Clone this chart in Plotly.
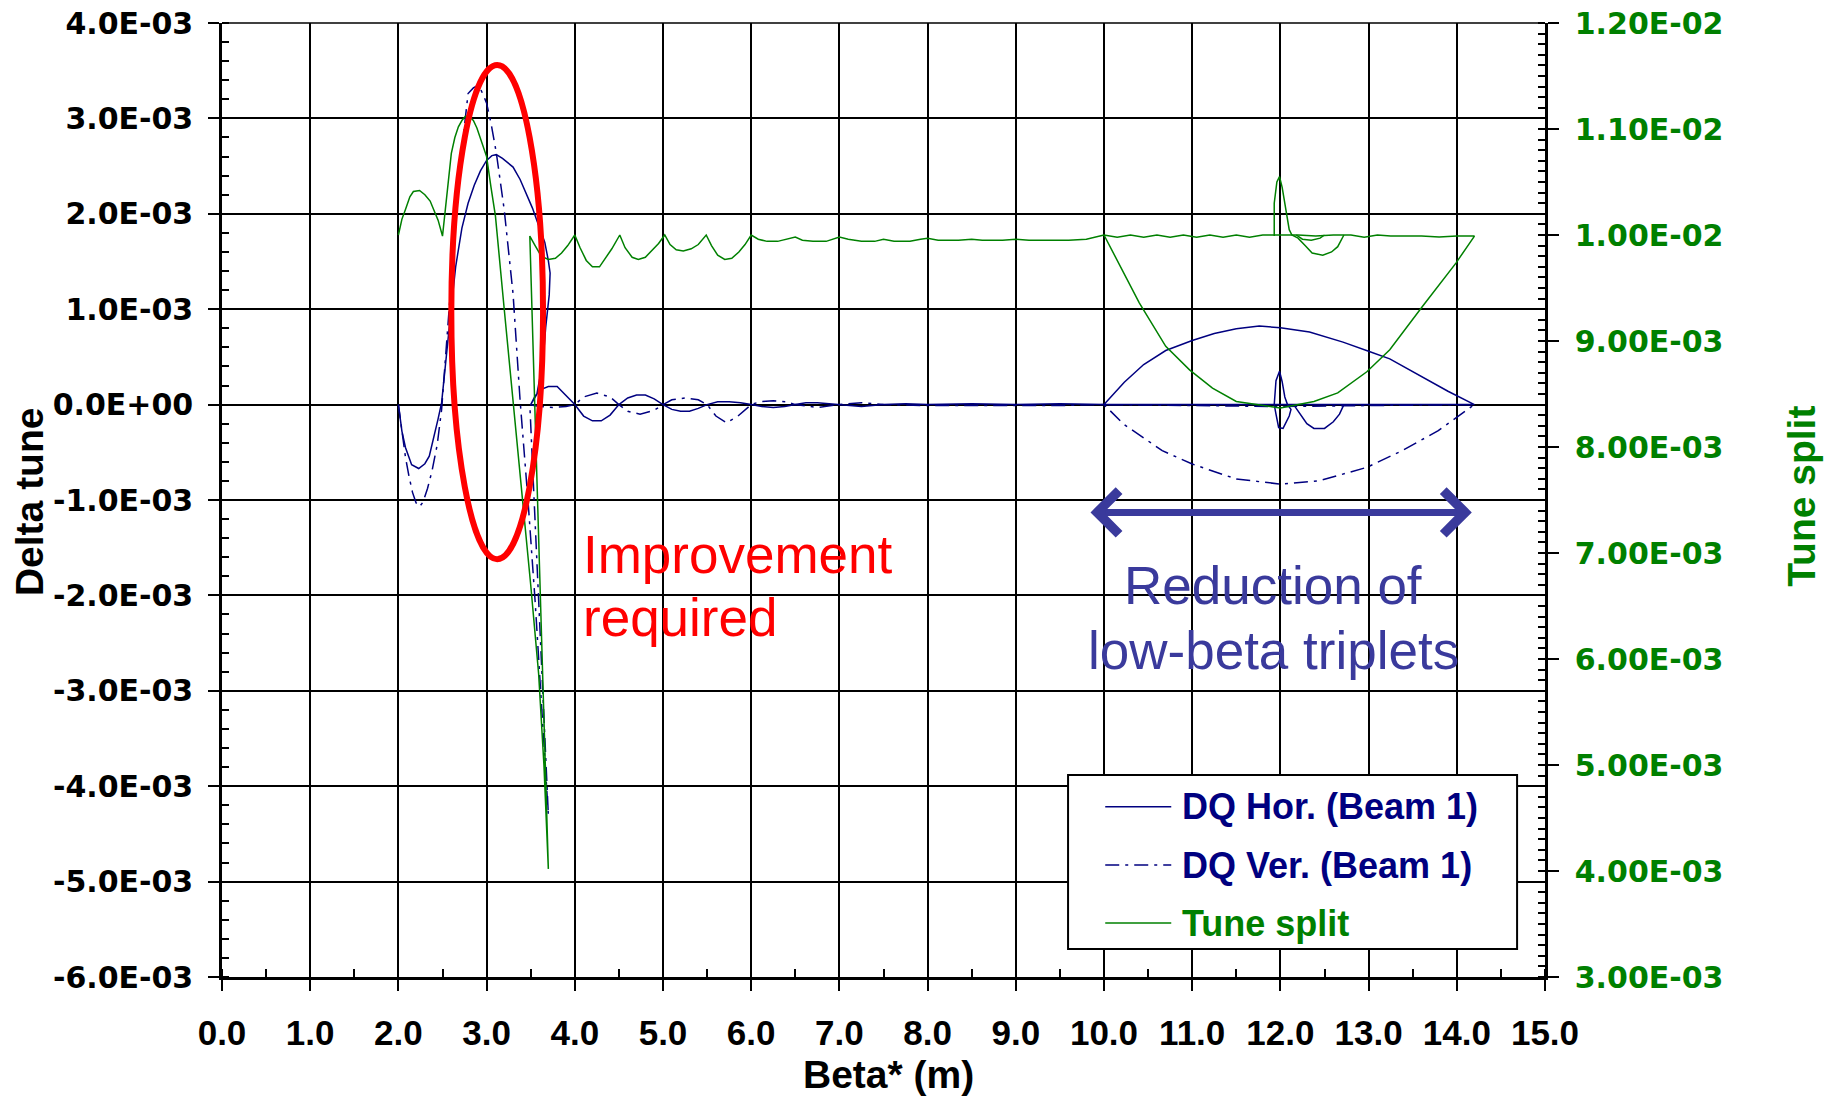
import plotly.graph_objects as go

# ---------------------------------------------------------------------------
# Data: tune shifts vs. beta* (values of the DQ series in units of 1e-3)
# None separates independent scan segments drawn with the same style.
# ---------------------------------------------------------------------------
series_names = ["DQ Hor. (Beam 1)", "DQ Ver. (Beam 1)", "Tune split"]

beta_hor = [
    2.00, 2.04, 2.08, 2.15, 2.23, 2.30, 2.35, 2.40, 2.45, 2.49, 2.53, 2.57,
    2.60, 2.65, 2.72, 2.79, 2.86, 2.93, 3.00, 3.06, 3.11, 3.18, 3.25, 3.30,
    3.38, 3.45, 3.52, 3.57, 3.62, 3.66, 3.70, 3.72, 3.71, 3.67, 3.64, 3.57,
    3.50,
    3.55, 3.62, 3.70, 3.80, 3.90, 4.00, 4.10, 4.20, 4.30, 4.40, 4.50, 4.60,
    4.70, 4.80, 4.90, 5.00, 5.10, 5.20, 5.30, 5.40, 5.50, 5.62, 5.75, 5.88,
    6.00, 6.12, 6.25, 6.38, 6.50, 6.62, 6.75, 6.88, 7.00, 7.25, 7.50, 7.75,
    8.00, 8.50, 9.00, 9.50, 10.00, 10.50, 11.00, 11.50, 11.93, 12.50, 13.00,
    13.50, 14.20,
    13.90, 13.61, 13.24, 13.00, 12.71, 12.33, 12.00, 11.76, 11.50, 11.25,
    11.00, 10.70, 10.45, 10.23, 10.00,
    None,
    11.93, 11.95, 11.99, 12.02, 12.05, 12.08, 12.12, 12.10, 12.03, 11.98,
    11.95, 11.93,
    None,
    12.15, 12.22, 12.30, 12.38, 12.50, 12.60, 12.67, 12.72,
]
dq_hor = [
    0.00, -0.28, -0.45, -0.63, -0.67, -0.62, -0.54, -0.36, -0.15, 0.02, 0.40, 0.75,
    1.02, 1.45, 1.85, 2.11, 2.30, 2.45, 2.56, 2.61, 2.62, 2.58, 2.53, 2.49,
    2.36, 2.21, 2.06, 1.93, 1.80, 1.70, 1.51, 1.38, 1.15, 0.81, 0.46, 0.11,
    0.00,
    0.09, 0.16, 0.19, 0.19, 0.10, 0.00, -0.12, -0.17, -0.17, -0.11, 0.00, 0.07,
    0.10, 0.10, 0.06, 0.00, -0.05, -0.07, -0.07, -0.04, 0.00, 0.03, 0.03, 0.02,
    0.00, -0.02, -0.03, -0.02, 0.00, 0.02, 0.02, 0.01, 0.00, -0.02, 0.00, 0.01,
    0.00, 0.01, 0.00, 0.01, 0.00, 0.00, 0.00, 0.00, 0.00, 0.00, 0.00,
    0.00, 0.00,
    0.14, 0.29, 0.48, 0.56, 0.655, 0.76, 0.806, 0.823, 0.795, 0.745,
    0.672, 0.567, 0.42, 0.234, 0.00,
    None,
    0.00, 0.25, 0.35, 0.24, 0.08, 0.00, -0.05, -0.12, -0.25, -0.24,
    -0.10, 0.00,
    None,
    0.00, -0.10, -0.20, -0.25, -0.25, -0.18, -0.10, 0.00,
]

beta_ver = [
    2.00, 2.04, 2.08, 2.12, 2.16, 2.20, 2.24, 2.28, 2.33, 2.38, 2.44, 2.49,
    2.53, 2.58, 2.64, 2.71, 2.79, 2.85, 2.91, 2.96, 3.00, 3.05, 3.11, 3.20,
    3.30, 3.38, 3.42, 3.47, 3.55, 3.62, 3.66, 3.70, 3.49,
    3.60, 3.75, 3.90, 4.00, 4.10, 4.25, 4.40, 4.50, 4.60, 4.74, 4.90, 5.00,
    5.10, 5.25, 5.40, 5.50, 5.60, 5.72, 5.85, 6.00, 6.10, 6.25, 6.40, 6.50,
    6.75, 7.00, 7.25, 7.50, 8.00, 8.50, 9.00, 9.50, 10.00, 11.00, 12.00,
    13.00, 14.20,
    13.79, 13.38, 12.98, 12.44, 12.00, 11.50, 11.00, 10.66, 10.22, 10.00,
]
dq_ver = [
    0.00, -0.30, -0.55, -0.75, -0.92, -1.03, -1.07, -1.02, -0.88, -0.70, -0.42, -0.05,
    0.45, 1.10, 1.80, 2.60, 3.26, 3.32, 3.35, 3.25, 3.16, 2.95, 2.64, 2.04,
    1.16, 0.04, -0.40, -1.01, -2.06, -3.11, -3.70, -4.30, 0.00,
    -0.02, -0.03, -0.02, 0.00, 0.08, 0.12, 0.08, 0.00, -0.07, -0.10, -0.06, 0.00,
    0.05, 0.07, 0.05, 0.00, -0.12, -0.19, -0.12, 0.00, 0.03, 0.04, 0.03, 0.00,
    -0.03, 0.00, 0.02, 0.00, -0.01, -0.01, -0.01, -0.01, 0.00, -0.01, -0.02,
    -0.01, 0.00,
    -0.273, -0.483, -0.658, -0.798, -0.833, -0.78, -0.623, -0.483, -0.203, 0.00,
]

beta_split = [
    2.00, 2.04, 2.08, 2.13, 2.17, 2.24, 2.30, 2.36, 2.41, 2.45, 2.50, 2.53,
    2.57, 2.60, 2.64, 2.68, 2.72, 2.76, 2.80, 2.85, 2.89, 2.95, 3.00, 3.05,
    3.10, 3.20, 3.30, 3.40, 3.50, 3.59, 3.65, 3.70, 3.49,
    3.55, 3.62, 3.70, 3.78, 3.85, 3.92, 4.00, 4.06, 4.13, 4.20, 4.28, 4.35,
    4.42, 4.51, 4.57, 4.65, 4.72, 4.80, 4.88, 4.95, 5.02, 5.08, 5.15, 5.23,
    5.32, 5.40, 5.49, 5.55, 5.62, 5.70, 5.78, 5.86, 5.93, 6.00, 6.08, 6.18,
    6.30, 6.40, 6.50, 6.58, 6.70, 6.85, 6.93, 7.00, 7.10, 7.25, 7.40, 7.50,
    7.62, 7.80, 7.92, 8.00, 8.12, 8.35, 8.50, 8.62, 8.85, 9.00, 9.15, 9.40,
    9.60, 9.80, 10.00, 10.15, 10.30, 10.45, 10.60, 10.75, 10.90, 11.05, 11.20,
    11.35, 11.50, 11.65, 11.80, 12.00, 12.20, 12.40, 12.60, 12.80, 12.95,
    13.10, 13.25, 13.40, 13.60, 13.80, 14.00, 14.20,
    13.99, 13.61, 13.24, 12.98, 12.65, 12.38, 12.00, 11.50, 11.23, 10.97,
    10.70, 10.40, 10.21, 10.00,
    None,
    11.93, 11.93, 11.96, 11.99, 12.02, 12.06, 12.10, 12.13, 12.20, 12.28,
    12.36, 12.48, 12.58, 12.65, 12.72,
    None,
    12.18, 12.25, 12.35, 12.45, 12.50,
]
tune_split = [
    10.00, 10.15, 10.24, 10.36, 10.41, 10.42, 10.38, 10.32, 10.22, 10.14, 9.99, 10.21,
    10.55, 10.77, 10.92, 11.02, 11.08, 11.12, 11.12, 11.08, 11.01, 10.85, 10.74, 10.45,
    10.18, 9.30, 8.44, 7.53, 6.70, 5.86, 5.00, 4.02, 9.99,
    9.90, 9.80, 9.77, 9.78, 9.83, 9.90, 10.00, 9.88, 9.76, 9.70, 9.70, 9.78,
    9.87, 10.00, 9.88, 9.79, 9.77, 9.79, 9.86, 9.92, 10.00, 9.91, 9.86, 9.85,
    9.87, 9.91, 10.00, 9.90, 9.81, 9.77, 9.78, 9.84, 9.91, 10.00, 9.96, 9.94,
    9.94, 9.96, 9.98, 9.95, 9.94, 9.94, 9.96, 9.98, 9.96, 9.94, 9.94, 9.96,
    9.94, 9.94, 9.96, 9.97, 9.95, 9.95, 9.96, 9.95, 9.95, 9.96, 9.95, 9.95,
    9.95, 9.96, 10.00, 9.98, 10.00, 9.98, 10.00, 9.98, 10.00, 9.98, 10.00,
    9.98, 10.00, 9.98, 10.00, 10.00, 10.00, 9.99, 10.00, 10.00, 9.98,
    10.00, 9.99, 9.99, 9.99, 9.98, 9.99, 9.99,
    9.735, 9.325, 8.917, 8.71, 8.51, 8.43, 8.367, 8.43, 8.556, 8.728,
    8.95, 9.36, 9.67, 10.00,
    None,
    9.99, 10.30, 10.50, 10.55, 10.45, 10.25, 10.05, 10.00, 9.97, 9.90,
    9.83, 9.81, 9.84, 9.89, 10.00,
    None,
    10.00, 9.96, 9.95, 9.97, 10.00,
]

x_ticks = [0.0, 1.0, 2.0, 3.0, 4.0, 5.0, 6.0, 7.0, 8.0, 9.0, 10.0, 11.0, 12.0, 13.0, 14.0, 15.0]
delta_ticks = [4.0e-3, 3.0e-3, 2.0e-3, 1.0e-3, 0.0, -1.0e-3, -2.0e-3, -3.0e-3, -4.0e-3, -5.0e-3, -6.0e-3]
split_ticks = [1.2e-2, 1.1e-2, 1.0e-2, 9.0e-3, 8.0e-3, 7.0e-3, 6.0e-3, 5.0e-3, 4.0e-3, 3.0e-3]


def milli(values):
    return [None if v is None else v * 1e-3 for v in values]


NAVY = "#000080"
GREEN = "#008000"
SLATE = "rgb(58,58,156)"
DASHDOT = "14px,6px,3px,6px"
SANS = "Liberation Sans, Arial, sans-serif"
WIDE = "DejaVu Sans, Verdana, sans-serif"

fig = go.Figure()
fig.add_trace(go.Scatter(x=beta_hor, y=milli(dq_hor), mode="lines", name=series_names[0],
                         line=dict(color=NAVY, width=1.5), connectgaps=False,
                         showlegend=False))
fig.add_trace(go.Scatter(x=beta_ver, y=milli(dq_ver), mode="lines", name=series_names[1],
                         line=dict(color=NAVY, width=1.5, dash=DASHDOT), connectgaps=False,
                         showlegend=False))
fig.add_trace(go.Scatter(x=beta_split, y=milli(tune_split), mode="lines", name=series_names[2],
                         line=dict(color=GREEN, width=1.5), connectgaps=False,
                         yaxis="y2", showlegend=False))

# --- axes -------------------------------------------------------------------
fig.update_layout(
    width=1841, height=1098,
    margin=dict(l=222, r=296, t=23, b=121),
    paper_bgcolor="white", plot_bgcolor="white",
    xaxis=dict(
        range=[0, 15], tickvals=x_ticks, ticktext=[f"{v:.1f}" for v in x_ticks],
        showgrid=True, gridcolor="black", gridwidth=1.5, zeroline=False,
        showline=True, linecolor="black", linewidth=3,
        ticks="outside", ticklen=11, tickwidth=1.5, tickcolor="black",
        minor=dict(dtick=0.5, ticks="inside", ticklen=8, tickwidth=1.5,
                   tickcolor="black", showgrid=False),
        tickfont=dict(family=SANS, size=35, weight="bold", color="black"),
        ticklabelstandoff=12, automargin=False,
    ),
    yaxis=dict(
        range=[-6e-3, 4e-3], tickvals=delta_ticks, ticktext=[f"{v:.1E}" for v in delta_ticks],
        showgrid=True, gridcolor="black", gridwidth=1.5, zeroline=False,
        showline=True, linecolor="black", linewidth=2.5,
        ticks="outside", ticklen=11, tickwidth=1.5, tickcolor="black",
        minor=dict(dtick=2e-4, ticks="inside", ticklen=7, tickwidth=1.5,
                   tickcolor="black", showgrid=False),
        tickfont=dict(family=WIDE, size=30, weight="bold", color="black"),
        ticklabelstandoff=9, automargin=False,
    ),
    yaxis2=dict(
        range=[3e-3, 1.2e-2], tickvals=split_ticks, ticktext=[f"{v:.2E}" for v in split_ticks],
        overlaying="y", side="right", anchor="x",
        showgrid=False, zeroline=False,
        showline=True, linecolor="black", linewidth=2.5,
        ticks="outside", ticklen=11, tickwidth=1.5, tickcolor="black",
        minor=dict(dtick=1e-4, ticks="inside", ticklen=7, tickwidth=1.5,
                   tickcolor="black", showgrid=False),
        tickfont=dict(family=WIDE, size=30, weight="bold", color=GREEN),
        ticklabelstandoff=10, automargin=False,
    ),
)

# --- axis titles ------------------------------------------------------------
annotations = [
    dict(text="Delta tune", xref="paper", yref="paper", x=-0.145, y=0.498,
         textangle=-90, showarrow=False, xanchor="center", yanchor="middle",
         font=dict(family=SANS, size=39, weight="bold", color="black")),
    dict(text="Tune split", xref="paper", yref="paper", x=1.194, y=0.504,
         textangle=-90, showarrow=False, xanchor="center", yanchor="middle",
         font=dict(family=SANS, size=39, weight="bold", color=GREEN)),
    dict(text="Beta* (m)", xref="paper", yref="paper", x=0.504, y=-0.102,
         showarrow=False, xanchor="center", yanchor="middle",
         font=dict(family=SANS, size=39, weight="bold", color="black")),
]

# --- callouts ---------------------------------------------------------------
callout_font = dict(family=SANS, size=53, color="red")
annotations += [
    dict(text="Improvement", xref="x", yref="y", x=4.07, y=-1.57e-3,
         showarrow=False, xanchor="left", yanchor="middle", font=callout_font),
    dict(text="required", xref="x", yref="y", x=4.07, y=-2.23e-3,
         showarrow=False, xanchor="left", yanchor="middle", font=callout_font),
    dict(text="Reduction of", xref="x", yref="y", x=11.92, y=-1.90e-3,
         showarrow=False, xanchor="center", yanchor="middle",
         font=dict(family=SANS, size=53, color=SLATE)),
    dict(text="low-beta triplets", xref="x", yref="y", x=11.92, y=-2.58e-3,
         showarrow=False, xanchor="center", yanchor="middle",
         font=dict(family=SANS, size=53, color=SLATE)),
    dict(text="", xref="x", yref="y", x=14.17, y=-1.13e-3,
         axref="x", ayref="y", ax=9.83, ay=-1.13e-3,
         showarrow=True, arrowside="end+start", arrowhead=4, startarrowhead=4,
         arrowsize=1.2, startarrowsize=1.2, arrowwidth=7, arrowcolor=SLATE),
]

shapes = [
    # top frame line of the plot area
    dict(type="line", xref="paper", yref="paper", x0=0, x1=1, y0=1, y1=1,
         line=dict(color="black", width=1.5), layer="below"),
    # highlighted region at low beta*
    dict(type="circle", xref="x", yref="y", x0=2.60, x1=3.64, y0=-1.62e-3, y1=3.56e-3,
         line=dict(color="red", width=6)),
]

# --- legend box -------------------------------------------------------------
legend_rows = [0.1785, 0.1174, 0.0566]
legend_styles = [dict(color=NAVY, dash="solid"), dict(color=NAVY, dash=DASHDOT),
                 dict(color=GREEN, dash="solid")]
legend_text_colors = [NAVY, NAVY, GREEN]
shapes.append(dict(type="rect", xref="paper", yref="paper", x0=0.6395, x1=0.9789,
                   y0=0.0294, y1=0.2117, fillcolor="white",
                   line=dict(color="black", width=2)))
for name, row, style, tcol in zip(series_names, legend_rows, legend_styles, legend_text_colors):
    shapes.append(dict(type="line", xref="paper", yref="paper", x0=0.6676, x1=0.7175,
                       y0=row, y1=row, line=dict(color=style["color"], width=1.5,
                                                 dash=style["dash"])))
    annotations.append(dict(text=name, xref="paper", yref="paper", x=0.7242, y=row,
                            showarrow=False, xanchor="left", yanchor="middle",
                            font=dict(family=SANS, size=36, weight="bold", color=tcol)))

fig.update_layout(shapes=shapes, annotations=annotations)

fig.write_html("out.html")
